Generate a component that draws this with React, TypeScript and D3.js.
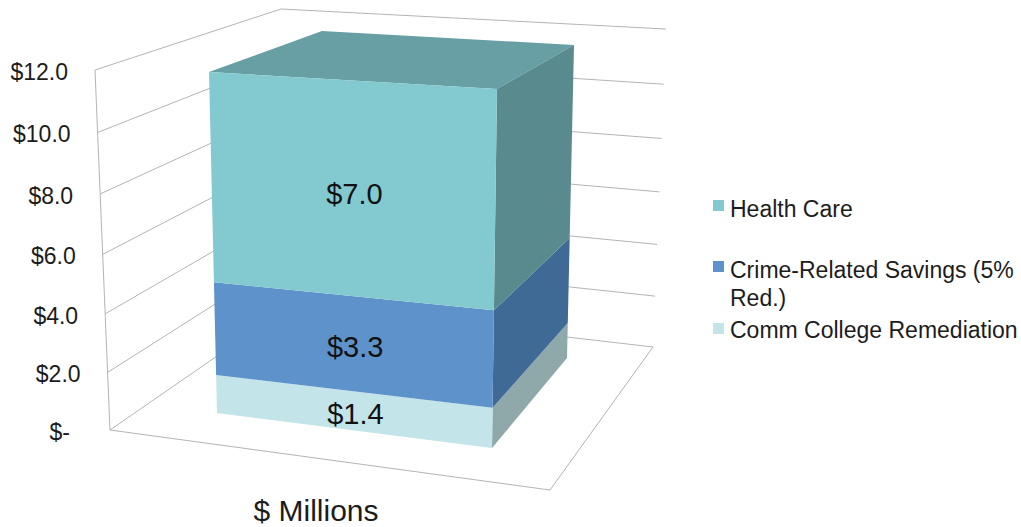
import React from "react";
import * as d3 from "d3";

// Chart values
const categoryLabel = "$ Millions";
const seriesNames = ["Comm College Remediation", "Crime-Related Savings (5% Red.)", "Health Care"];
const seriesValues = [1.4, 3.3, 7.0];
const tickValues = [0, 2, 4, 6, 8, 10, 12];
const tickLabels = ["$-", "$2.0", "$4.0", "$6.0", "$8.0", "$10.0", "$12.0"];

// Colours per series: front, side
const frontColors = ["#c3e4e8", "#5e92ca", "#82c9d0"];
const sideColors = ["#8fa8aa", "#3f6a96", "#588a8e"];
const topColor = "#679fa4";
const gridColor = "#b4b4b4";
const textColor = "#1c1c1c";
const font = "'Liberation Sans', Arial, sans-serif";

type Pt = [number, number];
const W = 1021;
const H = 527;

// Foreshortening of height with distance from the viewer: equal value steps
// cover slightly more screen the higher they sit.
const rise = (v: number, max: number, k: number) => v / (v + (max - v) * k);

// One vertical edge of the 3D scene: value -> screen point.
const edge = (bottom: Pt, top: Pt, max: number, k: number) => {
  const sx = d3.scaleLinear().domain([0, 1]).range([bottom[0], top[0]]);
  const sy = d3.scaleLinear().domain([0, 1]).range([bottom[1], top[1]]);
  return (v: number): Pt => {
    const f = rise(v, max, k);
    return [sx(f), sy(f)];
  };
};

// Wall edges, spanning the axis range
const axisMax = d3.max(tickValues)!;
const wallFront = edge([110, 430], [95, 70], axisMax, 1.05);
const wallCorner = edge([291, 305], [281, 9], axisMax, 1.03);
const wallRight = edge([653, 347], [666, 29], axisMax, 1.05);
const floorFront: Pt = [550, 490];

// Column edges, spanning the stacked total
const stacked = Array.from(d3.cumsum(seriesValues));
const total = stacked[stacked.length - 1];
const colFL = edge([217, 413], [209, 72], total, 1.08);
const colFR = edge([492, 448], [497, 89], total, 1.08);
const colBR = edge([567, 358], [574, 45], total, 1.08);
const colBL = edge([322, 331], [322, 31], total, 1.08);

const path = (pts: Pt[], closed = false) =>
  (d3.line()(pts) ?? "") + (closed ? "Z" : "");

const legendItems = [
  { series: 2, lines: ["Health Care"], swatchY: 200, baselines: [217] },
  { series: 1, lines: ["Crime-Related Savings (5%", "Red.)"], swatchY: 261, baselines: [278, 306] },
  { series: 0, lines: ["Comm College Remediation"], swatchY: 323, baselines: [338] },
];

export default function App() {
  const bands = seriesValues.map((v, i) => ({
    lo: i === 0 ? 0 : stacked[i - 1],
    hi: stacked[i],
    v,
    i,
  }));

  return (
    <svg
      width={W}
      height={H}
      viewBox={`0 0 ${W} ${H}`}
      style={{ position: "absolute", left: 0, top: 0, background: "#fff" }}
    >
      {/* Gridlines along the left and rear walls */}
      <g fill="none" stroke={gridColor} strokeWidth={1}>
        {tickValues.map((t) => (
          <path key={t} d={path([wallFront(t), wallCorner(t), wallRight(t)])} />
        ))}
        <path d={path([wallFront(0), wallFront(axisMax)])} />
        <path d={path([wallFront(0), floorFront, wallRight(0)])} />
      </g>

      {/* Value axis labels */}
      <g fontFamily={font} fontSize={23} fill={textColor} textAnchor="end">
        {tickValues.map((t, i) => {
          const [x, y] = wallFront(t);
          return (
            <text key={t} x={x - (t === 0 ? 40 : 27)} y={y + 10}>
              {tickLabels[i]}
            </text>
          );
        })}
      </g>

      {/* Stacked column */}
      <path
        d={path([colFL(total), colFR(total), colBR(total), colBL(total)], true)}
        fill={topColor}
      />
      {bands.map((b) => (
        <g key={b.i}>
          <path
            d={path([colFR(b.lo), colBR(b.lo), colBR(b.hi), colFR(b.hi)], true)}
            fill={sideColors[b.i]}
          />
          <path
            d={path([colFL(b.lo), colFR(b.lo), colFR(b.hi), colFL(b.hi)], true)}
            fill={frontColors[b.i]}
          />
        </g>
      ))}

      {/* Value labels centred on each front face */}
      <g fontFamily={font} fontSize={29} fill="#111" textAnchor="middle">
        {bands.map((b) => {
          const mid = (b.lo + b.hi) / 2;
          const [x1, y1] = colFL(mid);
          const [x2, y2] = colFR(mid);
          return (
            <text key={b.i} x={(x1 + x2) / 2 + 1} y={(y1 + y2) / 2 + 13}>
              {`$${b.v.toFixed(1)}`}
            </text>
          );
        })}
      </g>

      {/* Legend */}
      <g fontFamily={font} fontSize={23} fill={textColor}>
        {legendItems.map((item) => (
          <g key={item.series}>
            <rect
              x={713}
              y={item.swatchY}
              width={11}
              height={11}
              fill={frontColors[item.series]}
            />
            {item.lines.map((line, j) => (
              <text key={j} x={730} y={item.baselines[j]}>
                {line}
              </text>
            ))}
          </g>
        ))}
      </g>

      {/* Category label */}
      <text
        x={316}
        y={520.5}
        textAnchor="middle"
        fontFamily={font}
        fontSize={30}
        fill={textColor}
      >
        {categoryLabel}
      </text>
    </svg>
  );
}
